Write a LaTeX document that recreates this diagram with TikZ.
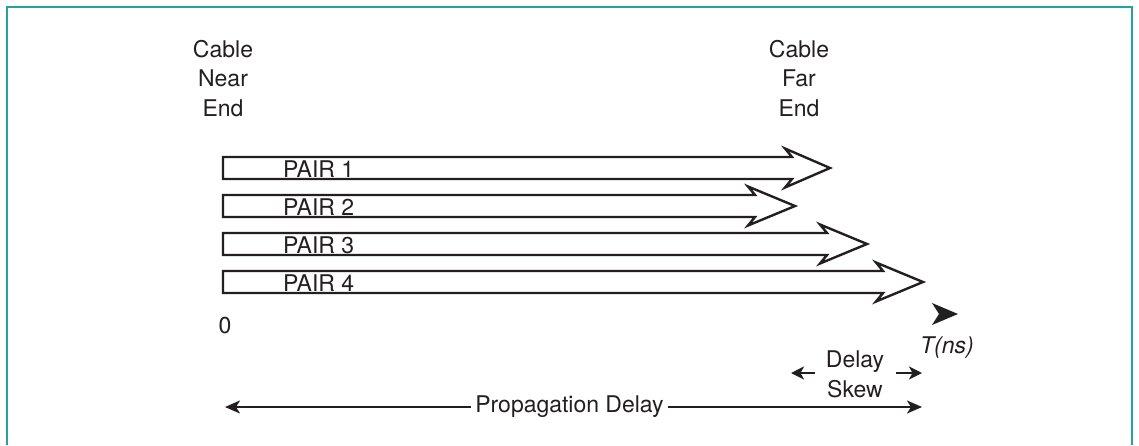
\documentclass[tikz,border=0pt]{standalone}
\usepackage{fontspec}
\setmainfont{TeX Gyre Heros}
\usetikzlibrary{arrows.meta}
\definecolor{ink}{HTML}{231F20}
\definecolor{framecol}{HTML}{22A39C}

% one cable pair: name, centre y, shaft end x, tip x, label
\newcommand\cablepair[5]{%
  \draw[pairarrow] (223,#2-11) -- (#3,#2-11) -- (#3-7,#2-19.5) -- (#4,#2)
        -- (#3-7,#2+19.5) -- (#3,#2+11) -- (223,#2+11) -- cycle;
  \node[lbl, anchor=base west] (#1) at (283,#2+9.6) {#5};
}

\begin{document}
\begin{tikzpicture}[x=1pt,y=-1pt,
  lbl/.style={font=\fontsize{23}{29.5}\selectfont, text=ink, inner sep=0pt},
  pairarrow/.style={draw=ink, line width=2.4pt, fill=white, line join=miter},
  dim/.style={draw=ink, line width=2pt},
  bigtip/.style={-{Stealth[length=15pt,width=13pt,inset=4pt]}},
  smalltip/.style={-{Stealth[length=13pt,width=13pt,inset=3.5pt]}},
]
\useasboundingbox (0,0) rectangle (1139,445);

% frame
\draw[framecol, line width=1.6pt] (7,445) -- (7,7) -- (1132,7) -- (1132,445);

% cable end labels
\node[lbl, align=center, anchor=north] (near) at (223,40) {Cable\\Near\\End};
\node[lbl, align=center, anchor=north] (far)  at (799,40) {Cable\\Far\\End};

% the four pairs
\cablepair{p1}{168}{792}{830}{PAIR 1}
\cablepair{p2}{206}{755}{795}{PAIR 2}
\cablepair{p3}{244}{827}{867}{PAIR 3}
\cablepair{p4}{282}{883}{923}{PAIR 4}

% time axis
\node[lbl, anchor=base] (zero) at (225,333) {0};
\fill[ink] (932,303) -- (958,314) -- (932,325) -- (939,314) -- cycle;
\node[lbl, anchor=base] (tns) at (947,353) {\itshape T(ns)};

% delay skew
\node[lbl, align=center, anchor=north] (skew) at (855,351) {Delay\\Skew};
\coordinate (skLa) at (815,373);
\coordinate (skLb) at (791,373);
\coordinate (skRa) at (896,373);
\coordinate (skRb) at (922,373);
\draw[dim, smalltip] (skLa) -- (skLb);
\draw[dim, smalltip] (skRa) -- (skRb);

% propagation delay
\node[lbl, anchor=base, inner xsep=4pt] (prop) at (569.5,412) {Propagation Delay};
\coordinate (pL) at (225,407);
\coordinate (pR) at (922,407);
\draw[dim, bigtip] (prop.west |- pL) -- (pL);
\draw[dim, bigtip] (prop.east |- pR) -- (pR);
\end{tikzpicture}
\end{document}
